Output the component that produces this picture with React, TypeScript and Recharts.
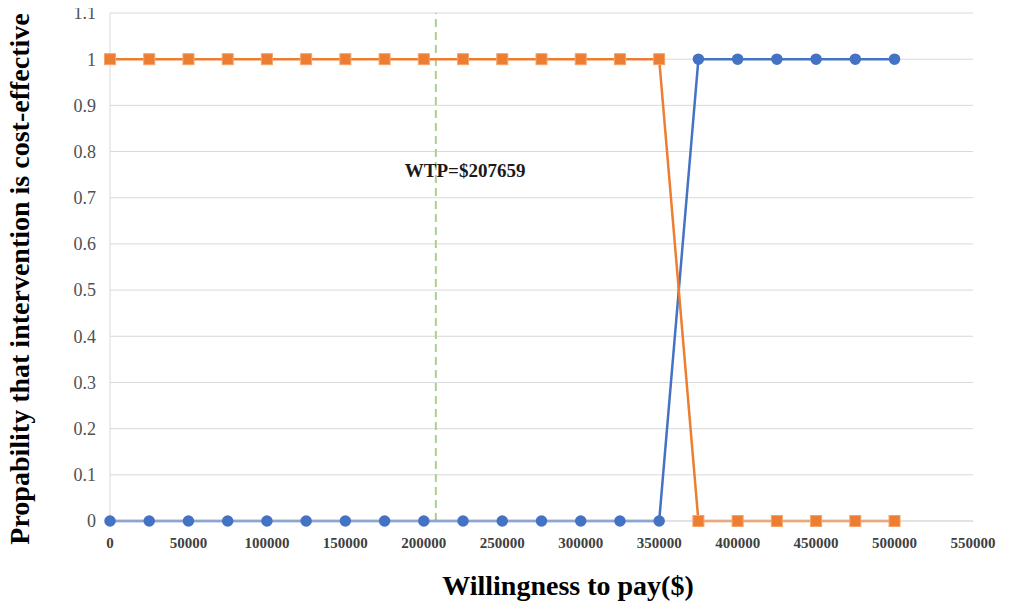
import React from 'react';
import { LineChart, Line, XAxis, YAxis, CartesianGrid, ReferenceLine, ReferenceDot } from 'recharts';

// Willingness-to-pay steps and the probability of each strategy being cost-effective
const wtp = [0, 25000, 50000, 75000, 100000, 125000, 150000, 175000, 200000, 225000, 250000,
  275000, 300000, 325000, 350000, 375000, 400000, 425000, 450000, 475000, 500000];
const intervention = [0, 0, 0, 0, 0, 0, 0, 0, 0, 0, 0, 0, 0, 0, 0, 1, 1, 1, 1, 1, 1];
const control = [1, 1, 1, 1, 1, 1, 1, 1, 1, 1, 1, 1, 1, 1, 1, 0, 0, 0, 0, 0, 0];

const xTicks = [0, 50000, 100000, 150000, 200000, 250000, 300000, 350000, 400000, 450000, 500000, 550000];
const yTicks = [0, 0.1, 0.2, 0.3, 0.4, 0.5, 0.6, 0.7, 0.8, 0.9, 1, 1.1];

const wtpThreshold = 207659;
const labelLevel = 0.755;

const data = wtp.map((x, i) => ({ x, intervention: intervention[i], control: control[i] }));

const serif = '"Liberation Serif", "Times New Roman", serif';

const SquareDot = (props: any) => {
  const { cx, cy } = props;
  if (cx == null || cy == null) return null;
  return <rect x={cx - 5.5} y={cy - 5.5} width={11} height={11} fill="#ED7D31" stroke="#F4A46A" strokeWidth={1} />;
};

const WtpLabel = (props: any) => {
  const { viewBox } = props;
  if (!viewBox) return null;
  return (
    <text x={viewBox.x - 31} y={viewBox.y} dominantBaseline="middle" fontFamily={serif}
      fontWeight="bold" fontSize={19} fill="#1a1a1a">
      WTP=$207659
    </text>
  );
};

const App: React.FC = () => {
  return (
    <div style={{ position: 'relative', width: 1021, height: 609, margin: -8 }}>
      <LineChart width={1021} height={609} data={data}
        margin={{ top: 13, right: 48, left: 50, bottom: 0 }}>
        <CartesianGrid vertical={false} stroke="#d9d9d9" />
        <XAxis dataKey="x" type="number" domain={[0, 550000]} ticks={xTicks}
          stroke="#d9d9d9" tickLine={false} height={88} interval={0}
          tick={{ fontFamily: serif, fontSize: 15, fontWeight: 'bold', fill: '#404040' }}
          tickMargin={10} />
        <YAxis type="number" domain={[0, 1.1]} ticks={yTicks} width={60}
          stroke="#d9d9d9" tickLine={false} interval={0}
          tick={{ fontFamily: serif, fontSize: 18, fill: '#505050' }}
          tickMargin={8} />
        <ReferenceLine x={wtpThreshold} stroke="#A9D18E" strokeWidth={2} strokeDasharray="8 5" />
        <Line type="linear" dataKey="intervention" stroke="#4472C4" strokeWidth={2.5}
          dot={{ r: 4.5, fill: '#4472C4', stroke: '#4472C4' }} isAnimationActive={false} />
        <Line type="linear" dataKey="control" stroke="#ED7D31" strokeWidth={2.5}
          dot={<SquareDot />} isAnimationActive={false} />
        <ReferenceDot x={wtpThreshold} y={labelLevel} r={0} stroke="none" fill="none"
          label={<WtpLabel />} />
      </LineChart>
      <div style={{
        position: 'absolute', left: 20, top: 279, transform: 'translate(-50%, -50%) rotate(-90deg)',
        whiteSpace: 'nowrap', fontFamily: serif, fontWeight: 'bold', fontSize: 28, color: '#000'
      }}>
        Propability that intervention is cost-effective
      </div>
      <div style={{
        position: 'absolute', left: 568, top: 586, transform: 'translate(-50%, -50%)',
        whiteSpace: 'nowrap', fontFamily: serif, fontWeight: 'bold', fontSize: 28, color: '#000'
      }}>
        Willingness to pay($)
      </div>
    </div>
  );
};

export default App;
